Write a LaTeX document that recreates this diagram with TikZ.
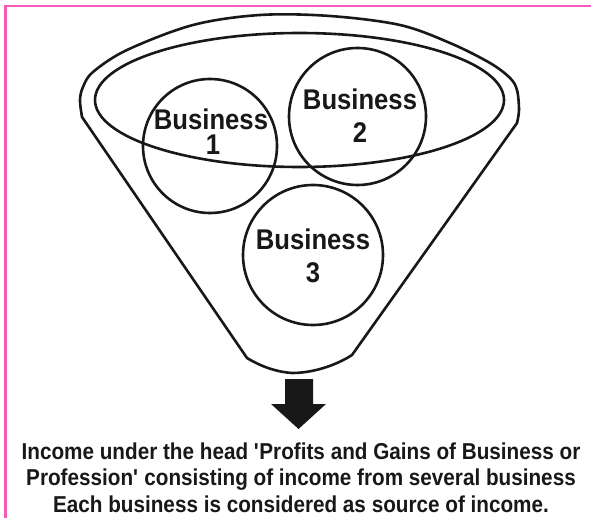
\documentclass[tikz,border=0pt]{standalone}
\usepackage{fontspec}
\usetikzlibrary{shapes.geometric}
\newfontfamily\diafont[FakeStretch=0.9]{Liberation Sans}
\definecolor{frame}{RGB}{242,92,182}
\definecolor{ink}{RGB}{24,24,24}
\begin{document}
\begin{tikzpicture}[x=1pt,y=-1pt,
  stroke/.style={draw=ink,line width=2.6pt},
  bcircle/.style={stroke,circle,inner sep=0pt,minimum size=#1},
  blabel/.style={anchor=base,inner sep=0pt,text=ink,font=\diafont\bfseries\fontsize{28.5}{30}\selectfont},
  caption/.style={anchor=base,inner sep=0pt,text=ink,font=\diafont\bfseries\fontsize{23}{25}\selectfont}]
\useasboundingbox (0,0) rectangle (591,518);
% pink frame
\draw[frame,line width=2.2pt] (5.5,518) -- (5.5,6) -- (591,6);
% funnel outline
\draw[stroke,line join=round] (247,358) -- (82,117) -- plot[smooth,tension=0.55] coordinates {(82,117) (80,100) (83,87) (93,72) (127,50) (193,25) (260,15) (330,16) (400,25) (450,43) (490,63) (510,78) (517,90) (519,110) (517,123)} -- (352,355) .. controls (335,366) and (312,373) .. (292,373) .. controls (277,372) and (262,367) .. (247,358) -- cycle;
% inner rim
\node[stroke,ellipse,inner sep=0pt,minimum width=409,minimum height=134] (rim) at (299.5,100) {};
% business circles
\node[bcircle=134] (b1) at (210,146) {};
\node[bcircle=137] (b2) at (357.5,116.5) {};
\node[bcircle=140] (b3) at (313,255) {};
\node[blabel] (b1a) at (211,130) {Business};
\node[blabel] (b1b) at (213,155) {1};
\node[blabel] (b2a) at (360,110) {Business};
\node[blabel] (b2b) at (360,143) {2};
\node[blabel] (b3a) at (313,250) {Business};
\node[blabel] (b3b) at (313,283) {3};
% arrow
\fill[ink] (285,379) -- (313,379) -- (313,404) -- (326,404) -- (298.5,429) -- (271,404) -- (285,404) -- cycle;
% caption
\node[caption] (c1) at (301,459) {Income under the head \textquotesingle Profits and Gains of Business or};
\node[caption] (c2) at (301,485) {Profession\textquotesingle{} consisting of income from several business};
\node[caption] (c3) at (301,512) {Each business is considered as source of income.};
\end{tikzpicture}
\end{document}
